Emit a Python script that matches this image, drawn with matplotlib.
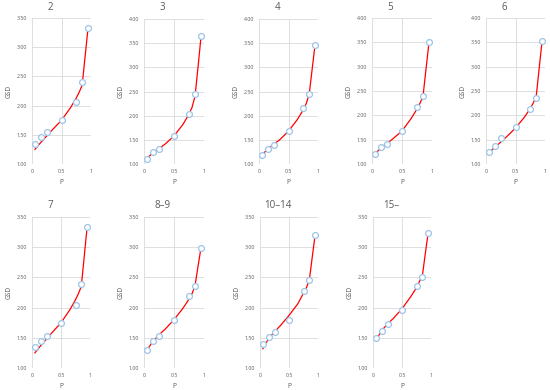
import matplotlib
matplotlib.use("Agg")
import matplotlib.pyplot as plt

plt.rcParams['font.family'] = ['Open Sans', 'DejaVu Sans']

# cumulative probability levels of the observed points
p_obs = [0.05, 0.15, 0.25, 0.5, 0.75, 0.85, 0.95]
p_fit = [0.05, 0.15, 0.25, 0.35, 0.5, 0.65, 0.75, 0.8, 0.85, 0.9, 0.95]

groups = ['2', '3', '4', '5', '6', '7', '8–9', '10–14', '15–']

obs_2 = [1.35, 1.46, 1.54, 1.75, 2.06, 2.40, 3.33]
obs_3 = [1.11, 1.24, 1.32, 1.58, 2.04, 2.44, 3.64]
obs_4 = [1.19, 1.31, 1.40, 1.68, 2.15, 2.44, 3.47]
obs_5 = [1.21, 1.34, 1.42, 1.68, 2.18, 2.39, 3.51]
obs_6 = [1.25, 1.37, 1.53, 1.76, 2.14, 2.35, 3.53]
obs_7 = [1.34, 1.45, 1.53, 1.74, 2.05, 2.39, 3.33]
obs_8 = [1.30, 1.45, 1.53, 1.80, 2.19, 2.36, 2.99]
obs_10 = [1.39, 1.52, 1.59, 1.79, 2.27, 2.46, 3.21]
obs_15 = [1.49, 1.62, 1.73, 1.96, 2.35, 2.51, 3.23]

fit_2 = [1.25, 1.37, 1.48, 1.59, 1.75, 1.96, 2.13, 2.23, 2.35, 2.84, 3.33]
fit_3 = [1.12, 1.23, 1.32, 1.41, 1.58, 1.82, 2.03, 2.17, 2.40, 3.00, 3.63]
fit_4 = [1.19, 1.31, 1.41, 1.50, 1.68, 1.92, 2.12, 2.25, 2.44, 2.95, 3.47]
fit_5 = [1.21, 1.33, 1.42, 1.52, 1.68, 1.93, 2.13, 2.25, 2.39, 2.95, 3.50]
fit_6 = [1.24, 1.34, 1.45, 1.56, 1.74, 1.96, 2.14, 2.25, 2.38, 2.95, 3.52]
fit_7 = [1.25, 1.37, 1.48, 1.59, 1.75, 1.96, 2.13, 2.23, 2.35, 2.84, 3.33]
fit_8 = [1.30, 1.44, 1.55, 1.64, 1.80, 1.99, 2.14, 2.23, 2.36, 2.68, 2.99]
fit_10 = [1.32, 1.49, 1.60, 1.70, 1.87, 2.06, 2.24, 2.33, 2.45, 2.83, 3.20]
fit_15 = [1.46, 1.62, 1.73, 1.82, 1.98, 2.18, 2.33, 2.43, 2.52, 2.88, 3.23]

ymax = [3.5, 4.0, 4.0, 4.0, 4.0, 3.5, 3.5, 3.5, 3.5]

obs_all = [obs_2, obs_3, obs_4, obs_5, obs_6, obs_7, obs_8, obs_10, obs_15]
fit_all = [fit_2, fit_3, fit_4, fit_5, fit_6, fit_7, fit_8, fit_10, fit_15]

# axes boxes in pixels: left, right, top, bottom
boxes = [
    (32, 91, 18, 164), (144, 204, 19, 164), (259, 318, 19, 164),
    (372, 432, 18, 164), (486, 545, 18, 164),
    (32, 90, 217, 368), (144, 204, 217, 368), (260, 318, 217, 368),
    (373, 431, 217, 368),
]

W, H = 550, 390
gray = '#595959'
fig = plt.figure(figsize=(W / 100, H / 100), dpi=100)

for i, name in enumerate(groups):
    l, r, t, b = boxes[i]
    ax = fig.add_axes([l / W, 1 - b / H, (r - l) / W, (b - t) / H])
    ax.plot(p_fit, fit_all[i], color='#ff0000', lw=0.9, zorder=2)
    ax.plot(p_obs, obs_all[i], 'o', ms=4.2, mfc='white', mec='#9dc3e6',
            mew=0.9, zorder=3)
    ax.set_xlim(0, 1)
    ax.set_ylim(1.0, ymax[i])
    ax.set_xticks([0, 0.5, 1])
    ax.set_xticklabels(['0', '0.5', '1'])
    yt = [1.0 + 0.5 * k for k in range(int(round((ymax[i] - 1.0) / 0.5)) + 1)]
    ax.set_yticks(yt)
    ax.set_yticklabels(['%.2f' % v for v in yt])
    ax.tick_params(length=0, labelsize=3.8, colors=gray, pad=3.5)
    ax.grid(True, color='#d9d9d9', lw=0.6)
    ax.set_axisbelow(True)
    for s in ax.spines.values():
        s.set_visible(False)
    ax.set_xlabel('P', fontsize=4.8, color=gray, labelpad=3.5)
    ax.set_ylabel('GSD', fontsize=4.8, color=gray, labelpad=3)
    ax.text(0.31, 1.0 + 11 / (b - t), name, transform=ax.transAxes,
            ha='center', va='center', fontsize=7, color=gray)

fig.savefig('out.png', dpi=100)
